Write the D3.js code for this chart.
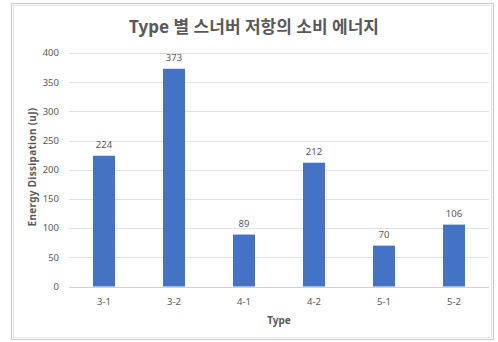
<!DOCTYPE html>
<html>
<head>
<meta charset="utf-8">
<script src="https://cdn.jsdelivr.net/npm/d3@7"></script>
<style>
  body { margin: 0; background: #fff; }
  text { font-family: "Noto Sans", "Noto Sans CJK KR", sans-serif; fill: #595959; }
</style>
</head>
<body>
<div class="canvas"></div>
<script>
// data
var types = ['3-1', '3-2', '4-1', '4-2', '5-1', '5-2'],
    energy = [224, 373, 89, 212, 70, 106],
    yTicks = [0, 50, 100, 150, 200, 250, 300, 350, 400];

var width = 498,
    height = 342,
    plot = { left: 69, right: 489, top: 53, bottom: 286.5 };

var svg = d3.select('.canvas').append('svg')
    .attr('width', width)
    .attr('height', height);

// chart frame
svg.append('rect')
    .attr('x', 11.5).attr('y', 3.5)
    .attr('width', 482).attr('height', 336)
    .attr('fill', 'none').attr('stroke', '#c8c8c8');
svg.append('rect')
    .attr('x', 13.5).attr('y', 5.5)
    .attr('width', 478).attr('height', 332)
    .attr('fill', 'none').attr('stroke', '#e4e4e4');

var x = d3.scaleBand()
    .domain(types)
    .range([plot.left, plot.right])
    .paddingInner(0.686)
    .paddingOuter(0.343);

var y = d3.scaleLinear()
    .domain([0, 400])
    .range([plot.bottom, plot.top]);

// grid
svg.append('g')
    .selectAll('line')
    .data(yTicks)
    .enter()
    .append('line')
    .attr('x1', plot.left)
    .attr('x2', plot.right)
    .attr('y1', function (d) { return Math.round(y(d)) + 0.5; })
    .attr('y2', function (d) { return Math.round(y(d)) + 0.5; })
    .attr('stroke', function (d) { return d === 0 ? '#d0d0d0' : '#e0e0e0'; });

// y tick labels
svg.append('g')
    .selectAll('text')
    .data(yTicks)
    .enter()
    .append('text')
    .attr('x', 59)
    .attr('y', function (d) { return y(d); })
    .attr('dy', '0.35em')
    .attr('text-anchor', 'end')
    .attr('font-size', 9.5)
    .text(function (d) { return d; });

// bars
svg.append('g')
    .selectAll('rect')
    .data(energy)
    .enter()
    .append('rect')
    .attr('x', function (d, i) { return x(types[i]); })
    .attr('y', function (d) { return y(d); })
    .attr('width', x.bandwidth())
    .attr('height', function (d) { return y(0) - y(d); })
    .attr('fill', '#4472c4');

// value labels
svg.append('g')
    .selectAll('text')
    .data(energy)
    .enter()
    .append('text')
    .attr('x', function (d, i) { return x(types[i]) + x.bandwidth() / 2; })
    .attr('y', function (d) { return y(d) - 8; })
    .attr('text-anchor', 'middle')
    .attr('font-size', 9.5)
    .text(function (d) { return d; });

// x tick labels
svg.append('g')
    .selectAll('text')
    .data(types)
    .enter()
    .append('text')
    .attr('x', function (d) { return x(d) + x.bandwidth() / 2; })
    .attr('y', 305)
    .attr('text-anchor', 'middle')
    .attr('font-size', 9.5)
    .text(function (d) { return d; });

// titles
svg.append('text')
    .attr('x', 254)
    .attr('y', 33)
    .attr('text-anchor', 'middle')
    .attr('font-size', 17)
    .attr('font-weight', 'bold')
    .attr('font-family', '"Noto Sans CJK KR", sans-serif')
    .text('Type 별 스너버 저항의 소비 에너지');

svg.append('text')
    .attr('x', (plot.left + plot.right) / 2)
    .attr('y', 324)
    .attr('text-anchor', 'middle')
    .attr('font-size', 10)
    .attr('font-weight', 'bold')
    .text('Type');

svg.append('text')
    .attr('transform', 'translate(36,167) rotate(-90)')
    .attr('text-anchor', 'middle')
    .attr('font-size', 10)
    .attr('font-weight', 'bold')
    .attr('letter-spacing', 0.3)
    .text('Energy Dissipation  (uJ)');
</script>
</body>
</html>
